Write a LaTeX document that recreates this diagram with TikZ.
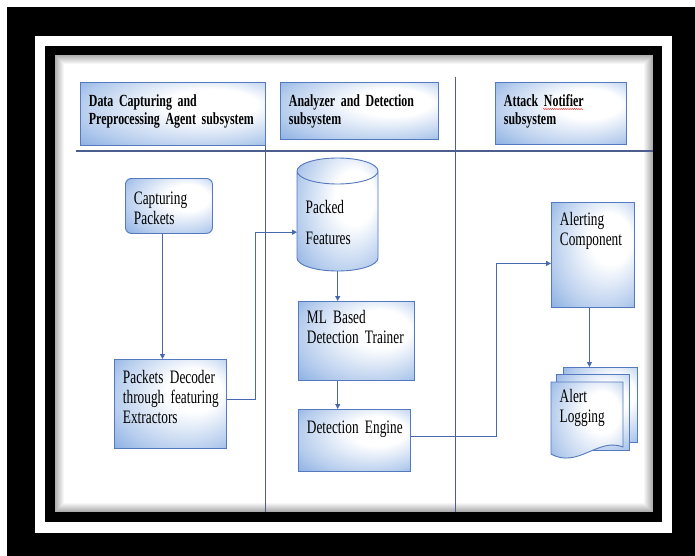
\documentclass[tikz,border=0pt]{standalone}
\usepackage{fontspec}
\setmainfont{Liberation Serif}[FakeStretch=0.70]
\usetikzlibrary{arrows.meta,decorations.pathmorphing}
\definecolor{glowblue}{HTML}{4F86D4}
\definecolor{boxline}{HTML}{5479BE}
\definecolor{linkblue}{HTML}{4868AE}
\definecolor{lanecol}{HTML}{4D5E8E}
\pgfdeclareradialshading{boxglow}{\pgfpoint{14bp}{10bp}}{color(0bp)=(white); color(12bp)=(white); color(30bp)=(glowblue!40); color(50bp)=(glowblue!95)}
\newcommand\flowfont{\fontsize{19}{20}\selectfont\fontdimen2\font=3.3pt\fontdimen3\font=1pt\fontdimen4\font=1pt\relax}
\newcommand\headfont{\fontsize{17}{18}\selectfont\bfseries\fontdimen2\font=3pt\fontdimen3\font=1pt\fontdimen4\font=1pt\relax}
\tikzset{
  boxtext/.style={anchor=north west, align=left, inner xsep=8.5pt, inner ysep=8pt, font=\flowfont,
    execute at begin node={\hyphenpenalty=10000 \exhyphenpenalty=10000 }},
  procbox/.style={boxtext, draw=boxline, line width=0.9pt, shading=boxglow},
  hdrbox/.style={procbox, font=\headfont},
  sheet/.style={anchor=north west, inner sep=0pt, draw=boxline, line width=0.9pt, shading=boxglow},
  dims/.style n args={3}{
    /utils/exec={\pgfmathsetlengthmacro\bxw{#1pt-17pt}\pgfmathsetlengthmacro\bxh{#3pt-8pt}\pgfmathsetlengthmacro\bxd{#2pt-8pt-#3pt}},
    minimum width=#1pt, minimum height=#2pt, text width=\bxw, text height=\bxh, text depth=\bxd},
  flow/.style={draw=linkblue, line width=0.9pt, -{Triangle[length=5pt,width=5pt]}},
  lane/.style={draw=lanecol, line width=0.9pt}
}
\begin{document}
\begin{tikzpicture}[x=1pt,y=-1pt]
  \useasboundingbox (0,0) rectangle (695,556);
  \fill[white] (0,0) rectangle (695,556);
  \fill[black] (7,7) rectangle (695,556);
  \fill[white] (35,36) rectangle (672,533);
  \fill[black] (45,46) rectangle (662,522);
  \fill[white] (55,55) rectangle (653,512);
  \foreach \i in {0,...,8} {
    \pgfmathsetmacro\op{0.32*(1-\i/9)}
    \draw[black, opacity=\op, line width=1pt] (55.5+\i,55.5+\i) rectangle (652.5-\i,511.5-\i);
  }

  \draw[lane, line width=1.5pt] (76,151) -- (653,151);
  \draw[lane] (265,82) -- (265,512);
  \draw[lane] (455,77) -- (455,512);

  \node[hdrbox, dims={185}{63}{24}] (capt) at (80,82) {Data~Capturing~and\\Preprocessing~Agent~subsystem};
  \node[hdrbox, dims={158}{57}{24}] (anlz) at (280,82) {Analyzer~and~Detection\\subsystem};
  \node[hdrbox, dims={131}{62}{24}] (ntfy) at (495,82) {Attack~Notifier\\subsystem};
  \draw[red, decorate, decoration={snake, amplitude=0.5pt, segment length=2.2pt}] (543,109) -- (583,109);

  \node[procbox, rounded corners=6pt, dims={87}{55}{26}] (cpkt) at (125,178) {Capturing\\Packets};
  \node[procbox, dims={112}{89}{24}] (dec) at (114,359) {Packets~Decoder\\through~featuring\\Extractors};

  \path[shading=boxglow] (297,171) -- (297,258) arc[start angle=180, end angle=360, x radius=40.5pt, y radius=13pt]
    -- (378,171) arc[start angle=0, end angle=180, x radius=40.5pt, y radius=13pt] -- cycle;
  \draw[boxline, line width=0.9pt] (297,171) -- (297,258) arc[start angle=180, end angle=360, x radius=40.5pt, y radius=13pt]
    -- (378,171) arc[start angle=0, end angle=180, x radius=40.5pt, y radius=13pt]
    arc[start angle=180, end angle=360, x radius=40.5pt, y radius=13pt];
  \node[boxtext, dims={81}{114}{56}] (feat) at (297,157) {Packed\\[11pt]Features};

  \node[procbox, dims={116}{79}{22}] (mlt) at (298,301) {ML~Based\\Detection~Trainer};
  \node[procbox, dims={112}{62}{24}] (eng) at (298,409) {Detection~Engine};
  \node[procbox, dims={83}{105}{23}] (alrt) at (551,202) {Alerting\\Component};

  \node[sheet, minimum width=74pt, minimum height=75pt] (logc) at (563,367) {};
  \node[sheet, minimum width=73pt, minimum height=76pt] (logb) at (556,374) {};
  \path[draw=boxline, line width=0.9pt, shading=boxglow] (551,382) -- (623,382) -- (623,447)
    .. controls (598,437) and (578,469) .. (551,454) -- cycle;
  \node[boxtext, dims={72}{73}{20}] (loga) at (551,382) {Alert\\Logging};

  \draw[flow] ([xshift=-6.5pt]cpkt.south) -- ([xshift=-6.5pt]cpkt.south |- dec.north);
  \draw[flow] ([yshift=4.5pt]dec.east) -- ++(29,0) |- ([yshift=-18pt]feat.west);
  \draw[flow] (feat.south) -- (feat.south |- mlt.north);
  \draw[flow] (feat.south |- mlt.south) -- (feat.south |- eng.north);
  \draw[flow] ([yshift=4pt]eng.east) -- ++(86,0) |- ([yshift=-8.5pt]alrt.west);
  \draw[flow] ([xshift=-3.5pt]alrt.south) -- ([xshift=-3.5pt]alrt.south |- logc.north);
\end{tikzpicture}
\end{document}
